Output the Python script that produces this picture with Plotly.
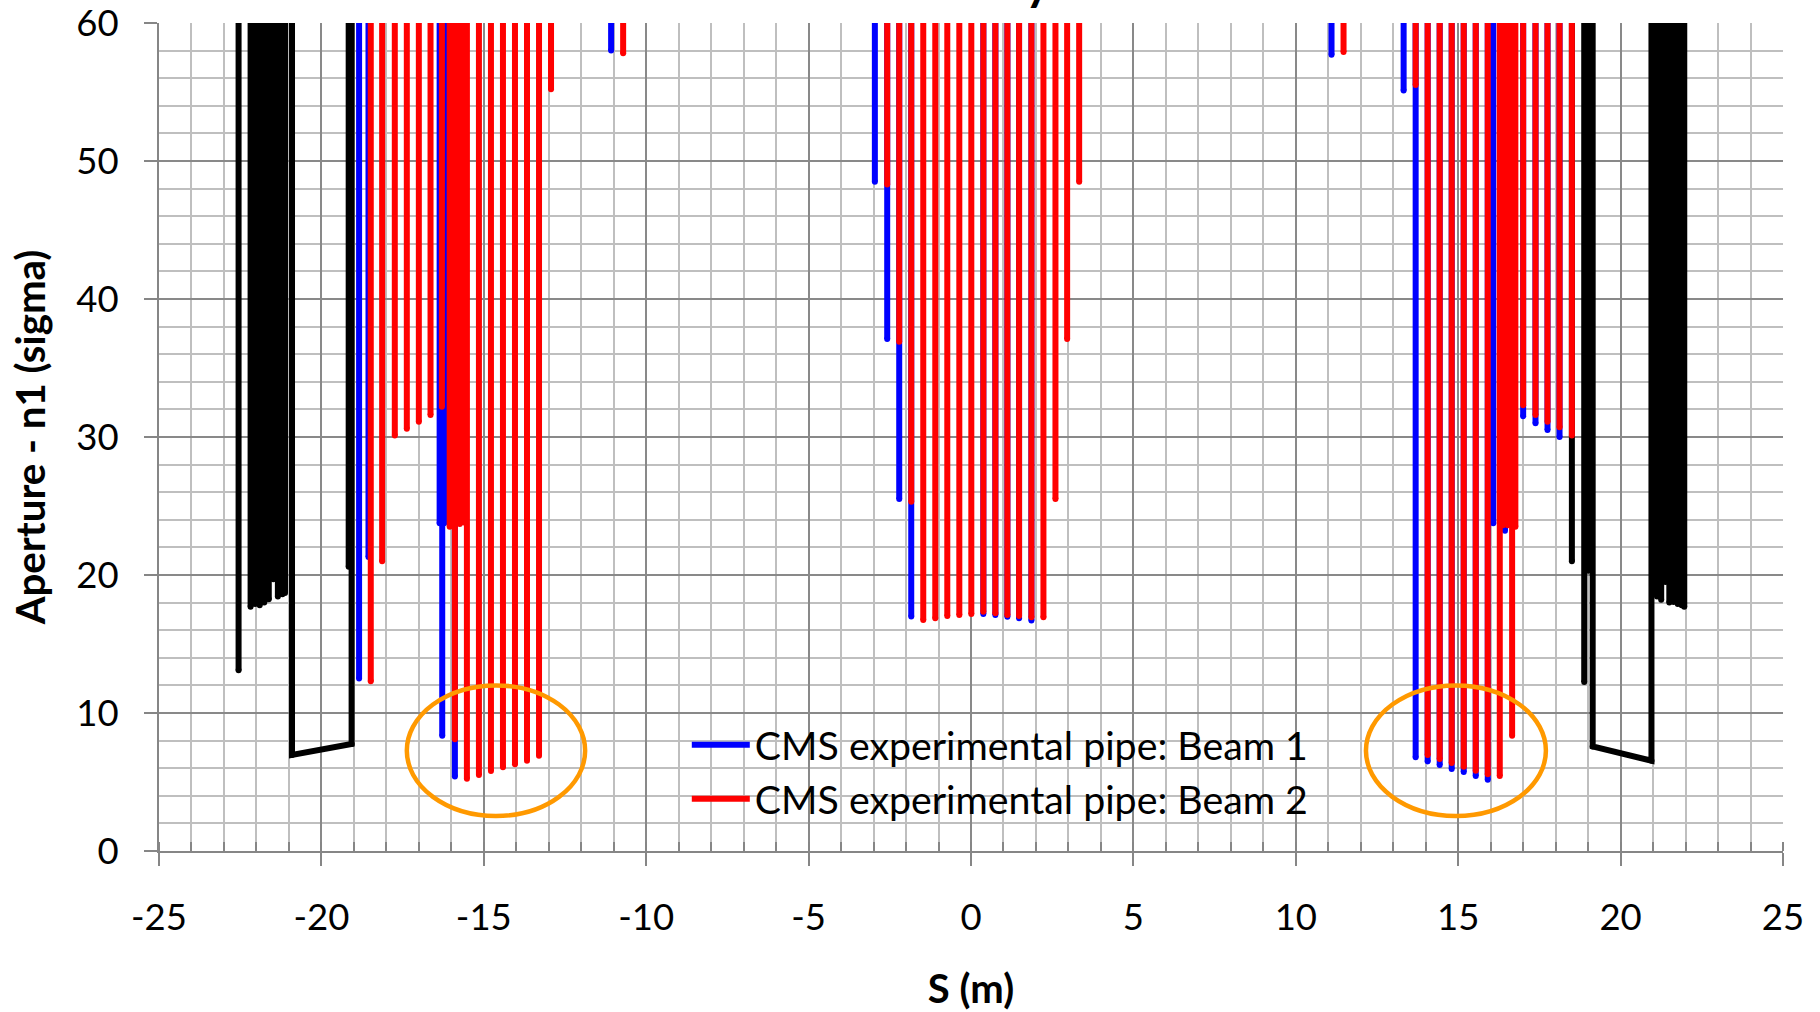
import plotly.graph_objects as go

# Off-scale aperture value (element not limiting; lines leave the top of the frame)
N1_OFF = 1000.0

# ---- Beam 1 (CMS experimental pipe) : element position S (m) and minimum n1 (sigma)
B1_S = [-18.84, -18.55, -16.36, -16.22, -16.28, -15.89, -11.08,
        -2.96, -2.58, -2.21, -1.84, 0.38, 0.75, 1.12, 1.48, 1.86,
        11.10, 13.32, 13.69, 14.06, 14.43, 14.80, 15.17, 15.54, 15.91,
        16.08, 16.44, 17.00, 17.38, 17.75, 18.12]
B1_N1 = [12.5, 21.3, 23.75, 23.75, 8.35, 5.4, 58.0,
         48.5, 37.1, 25.5, 17.0, 17.17, 17.1, 16.98, 16.86, 16.7,
         57.7, 55.1, 6.8, 6.49, 6.23, 5.94, 5.72, 5.43, 5.17,
         23.75, 23.2, 31.5, 31.0, 30.5, 30.0]

# ---- Beam 2 (CMS experimental pipe)
B2_S = [-18.48, -18.13, -17.74, -17.37, -17.00, -16.64, -16.29,
        -16.05, -15.89, -15.74, -15.61, -15.52, -15.15, -14.78, -14.41,
        -14.04, -13.67, -13.30, -12.93, -10.71,
        -2.58, -2.21, -1.84, -1.47, -1.10, -0.73, -0.36, 0.01, 0.38, 0.75,
        1.12, 1.48, 1.86, 2.23, 2.60, 2.96, 3.33,
        11.47, 13.69, 14.06, 14.43, 14.80, 15.17, 15.54, 15.91, 16.28,
        16.38, 16.53, 16.66, 16.76, 17.00, 17.38, 17.75, 18.12, 18.50]
B2_N1 = [12.3, 21.0, 30.1, 30.6, 31.1, 31.6, 32.2,
         23.5, 8.1, 23.7, 23.8, 5.24, 5.5, 5.8, 6.07,
         6.28, 6.54, 6.9, 55.2, 57.8,
         48.3, 36.9, 25.3, 16.74, 16.86, 17.03, 17.1, 17.17, 17.34, 17.22,
         17.1, 17.03, 16.93, 16.93, 25.5, 37.1, 48.5,
         57.9, 55.5, 6.95, 6.67, 6.38, 6.1, 5.82, 5.56, 5.43,
         23.6, 23.6, 8.35, 23.5, 32.3, 31.6, 31.1, 30.7, 30.1]

# ---- Other machine elements (black): single elements
AP_S = [-22.55, -22.18, -22.04, -21.90, -21.76, -21.62, -21.48, -21.34, -21.20, -21.12,
        -19.16, 18.50, 18.88, 19.01,
        21.12, 21.25, 21.38, 21.50, 21.63, 21.76, 21.88, 21.96]
AP_N1 = [13.1, 17.7, 17.9, 17.8, 18.0, 18.25, 19.7, 18.45, 18.6, 18.7,
         20.6, 21.0, 12.25, 20.3,
         18.45, 18.2, 19.5, 18.0, 18.05, 17.9, 17.8, 17.7]
# ---- black elements with sloped aperture: entry S, entry n1, exit S, exit n1
AP_U_S_IN = [-20.905, 19.14]
AP_U_N1_IN = [6.96, 7.58]
AP_U_S_OUT = [-19.07, 20.95]
AP_U_N1_OUT = [7.75, 6.54]

X_TICKS = [-25, -20, -15, -10, -5, 0, 5, 10, 15, 20, 25]
Y_TICKS = [0, 10, 20, 30, 40, 50, 60]

# Highlighted regions (ellipses): S range, n1 range
HL_S0 = [-17.37, 12.16]
HL_S1 = [-11.88, 17.70]
HL_N0 = [2.54, 2.54]
HL_N1 = [12.0, 12.0]


def spikes(s_list, n_list):
    xs, ys = [], []
    for s, n in zip(s_list, n_list):
        xs += [s, s, None]
        ys += [N1_OFF, n, None]
    return xs, ys


FONT = "Lato"

fig = go.Figure()

# black elements
bx, by = spikes(AP_S, AP_N1)
for s0, n0, s1, n1 in zip(AP_U_S_IN, AP_U_N1_IN, AP_U_S_OUT, AP_U_N1_OUT):
    bx += [s0, s0, s1, s1, None]
    by += [N1_OFF, n0, n1, N1_OFF, None]
fig.add_trace(go.Scatter(x=bx, y=by, mode="lines", showlegend=False,
                         line=dict(color="#000000", width=6), hoverinfo="skip"))
fig.add_trace(go.Scatter(x=AP_S + AP_U_S_IN + AP_U_S_OUT,
                         y=AP_N1 + AP_U_N1_IN + AP_U_N1_OUT,
                         mode="markers", showlegend=False, hoverinfo="skip",
                         marker=dict(color="#000000", size=6, line=dict(width=0))))

for name, s_list, n_list, col in [
        ("CMS experimental pipe: Beam 1", B1_S, B1_N1, "#0000FF"),
        ("CMS experimental pipe: Beam 2", B2_S, B2_N1, "#FF0000")]:
    xs, ys = spikes(s_list, n_list)
    fig.add_trace(go.Scatter(x=xs, y=ys, mode="lines", name=name,
                             line=dict(color=col, width=6), hoverinfo="skip"))
    fig.add_trace(go.Scatter(x=s_list, y=n_list, mode="markers", showlegend=False,
                             hoverinfo="skip",
                             marker=dict(color=col, size=6, line=dict(width=0))))

for s0, s1, n0, n1 in zip(HL_S0, HL_S1, HL_N0, HL_N1):
    fig.add_shape(type="circle", xref="x", yref="y", x0=s0, x1=s1, y0=n0, y1=n1,
                  line=dict(color="#FF9900", width=4.5), layer="above")

MAJ = "#898989"
MIN = "#BFBFBF"

fig.update_layout(
    width=1820, height=1012,
    margin=dict(l=159, r=37, t=23, b=161, autoexpand=False),
    paper_bgcolor="white", plot_bgcolor="white",
    font=dict(family=FONT, size=36, color="black"),
    showlegend=True,
    legend=dict(x=0.325, y=0.167, xanchor="left", yanchor="top",
                bgcolor="rgba(0,0,0,0)", borderwidth=0,
                font=dict(family=FONT, size=39.3, color="black"),
                itemwidth=58, tracegroupgap=0),
    annotations=[dict(text="<b>y</b>", xref="paper", yref="paper",
                      x=(1038 - 159) / 1624, y=1.0138, xanchor="center",
                      yanchor="bottom", showarrow=False,
                      font=dict(family=FONT, size=48, color="black"))],
)

fig.update_xaxes(range=[-25, 25], tickmode="array", tickvals=X_TICKS,
                 ticktext=[str(v) for v in X_TICKS], automargin=False,
                 ticklabeloverflow="allow",
                 showgrid=True, gridcolor=MAJ, gridwidth=1.5, zeroline=False,
                 showline=True, linecolor="#868686", linewidth=2,
                 ticks="outside", ticklen=13, tickwidth=2, tickcolor="#868686",
                 ticklabelstandoff=20,
                 tickfont=dict(family=FONT, size=36.5, color="black"),
                 minor=dict(dtick=1, tick0=0, showgrid=True, gridcolor=MIN, gridwidth=1.5,
                            ticks="inside", ticklen=9, tickwidth=2, tickcolor="#868686"),
                 title=dict(text="<b>S (m)</b>", standoff=40,
                            font=dict(family=FONT, size=40, color="black")))

fig.update_yaxes(range=[0, 60], tickmode="array", tickvals=Y_TICKS,
                 ticktext=[str(v) for v in Y_TICKS], automargin=False,
                 ticklabeloverflow="allow",
                 showgrid=True, gridcolor=MAJ, gridwidth=1.5, zeroline=False,
                 showline=True, linecolor="#868686", linewidth=2,
                 ticks="outside", ticklen=13, tickwidth=2, tickcolor="#868686",
                 ticklabelstandoff=18,
                 tickfont=dict(family=FONT, size=36.5, color="black"),
                 minor=dict(dtick=2, tick0=0, showgrid=True, gridcolor=MIN, gridwidth=1.5,
                            ticks=""),
                 title=dict(text="<b>Aperture - n1 (sigma)</b>", standoff=18,
                            font=dict(family=FONT, size=40.2, color="black")))

fig.write_html("out.html")
